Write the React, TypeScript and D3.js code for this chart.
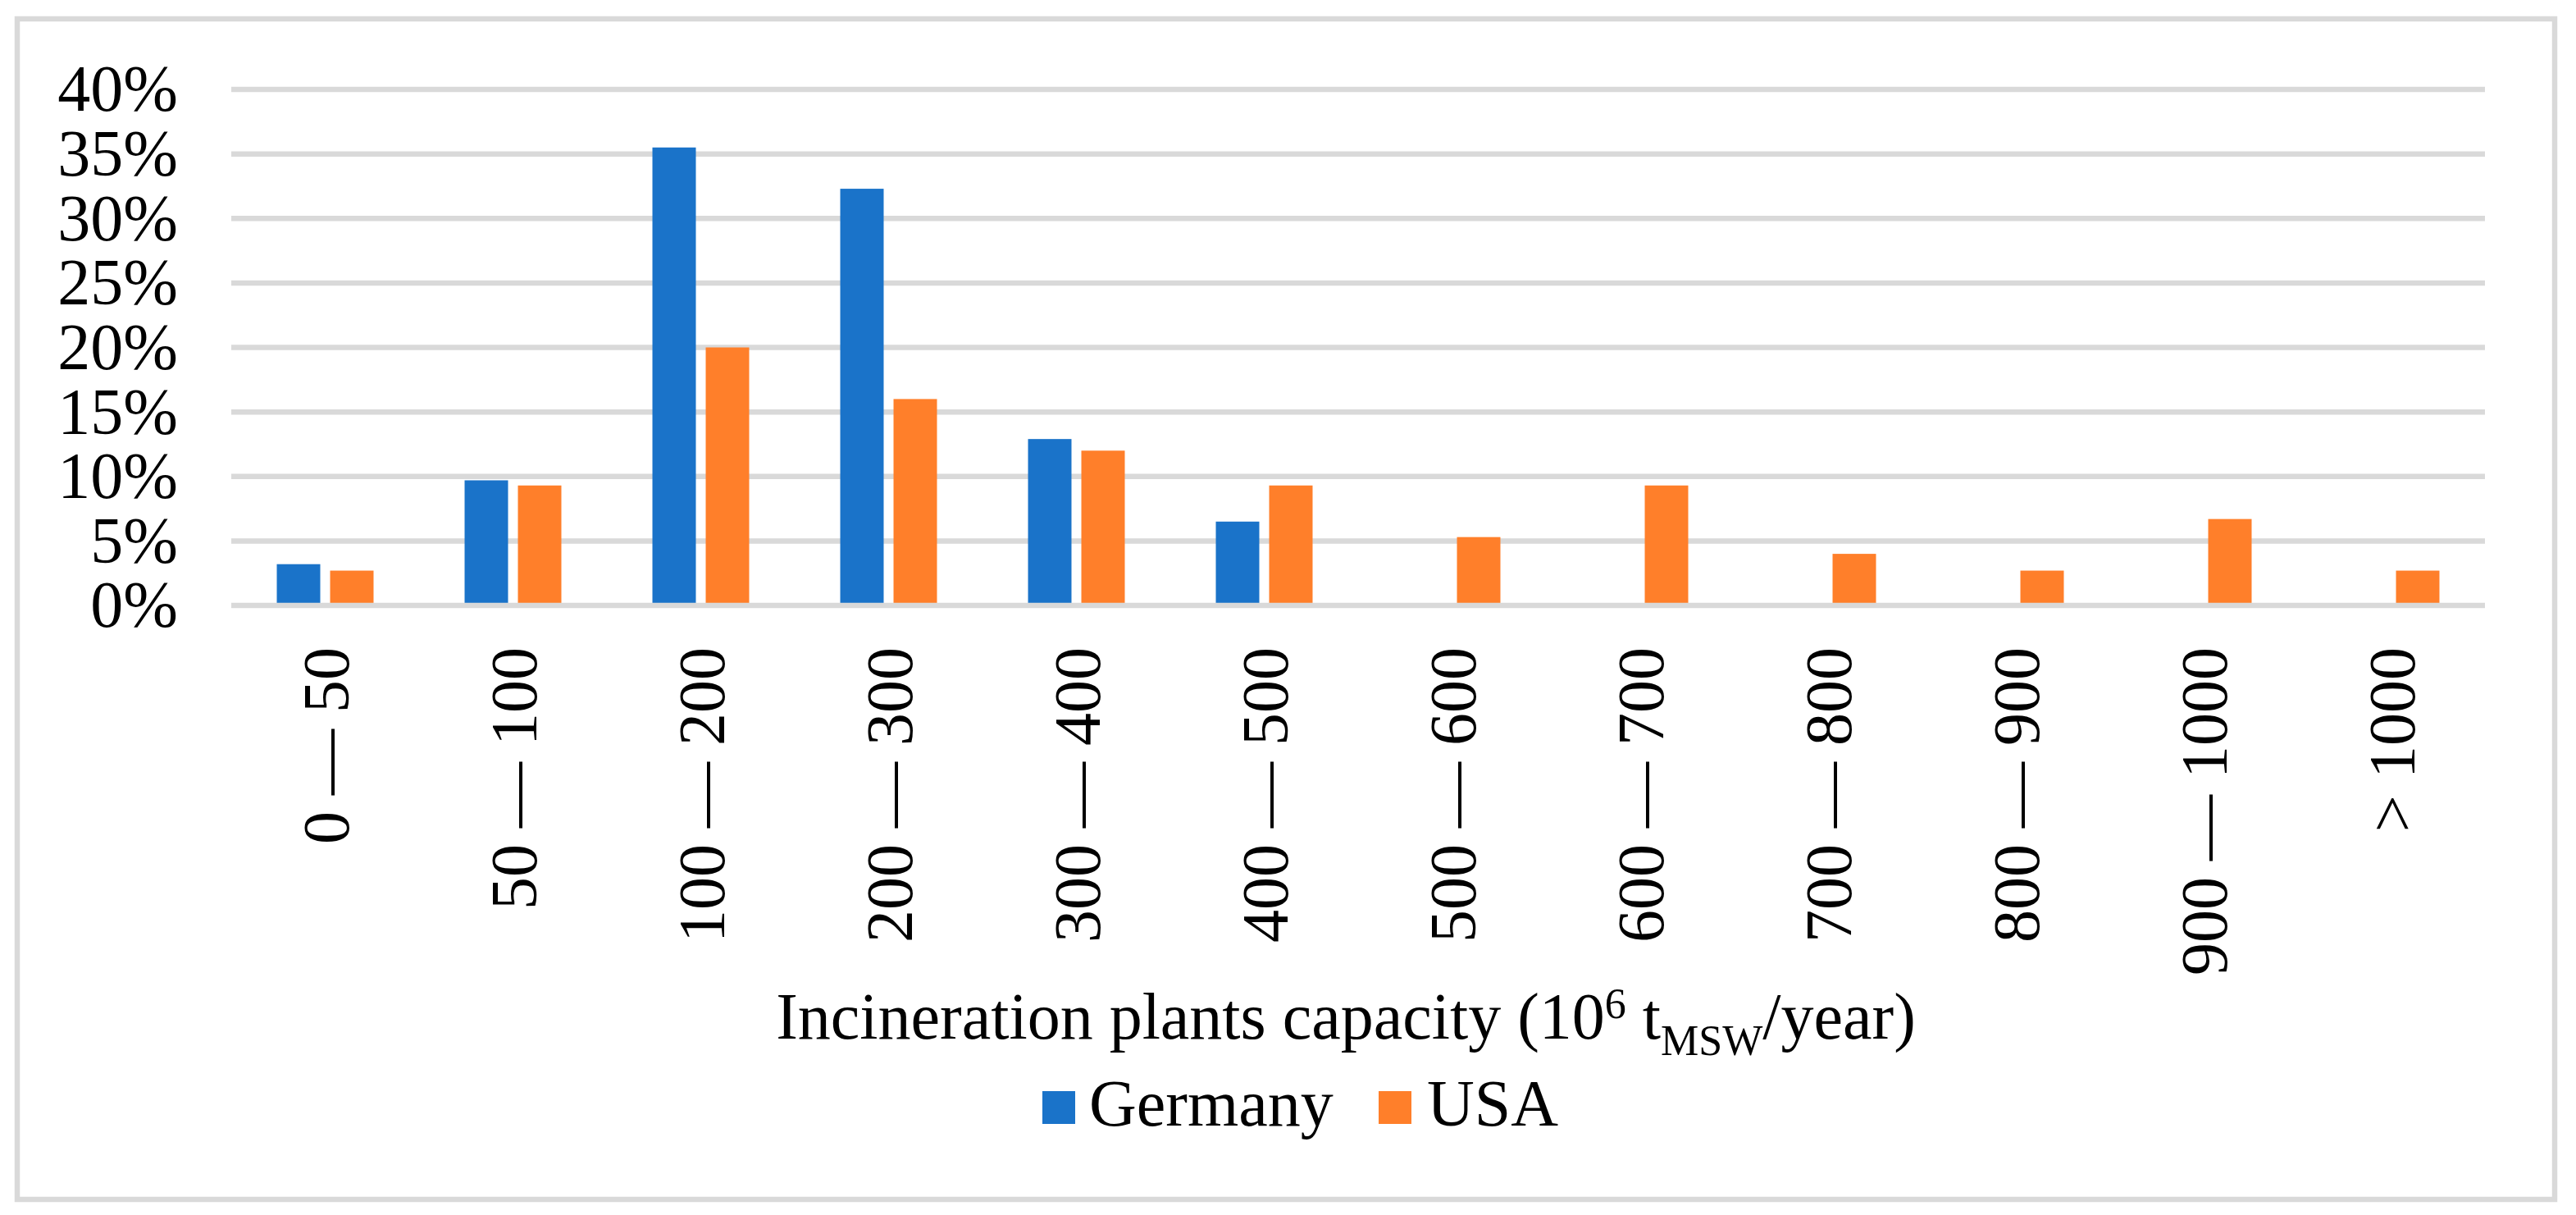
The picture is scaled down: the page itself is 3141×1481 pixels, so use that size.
import React from "react";
import * as d3 from "d3";

const categories = [
  "0 — 50",
  "50 — 100",
  "100 — 200",
  "200 — 300",
  "300 — 400",
  "400 — 500",
  "500 — 600",
  "600 — 700",
  "700 — 800",
  "800 — 900",
  "900 — 1000",
  "> 1000",
];
const seriesNames = ["Germany", "USA"];
const germanyValues = [3.2, 9.7, 35.5, 32.3, 12.9, 6.5, 0, 0, 0, 0, 0, 0];
const usaValues = [2.7, 9.3, 20.0, 16.0, 12.0, 9.3, 5.3, 9.3, 4.0, 2.7, 6.7, 2.7];
const yTicks = [0, 5, 10, 15, 20, 25, 30, 35, 40];
const seriesColors = ["#1a73c9", "#ff7f2a"];

const W = 3141;
const H = 1481;
const FONT = "'Liberation Serif', 'Times New Roman', serif";
const GRID = "#d9d9d9";

export default function App() {
  const x0 = d3.scaleBand<string>().domain(categories).range([282, 3030]);
  const x1 = d3
    .scaleBand<string>()
    .domain(seriesNames)
    .range([0, x0.bandwidth()])
    .paddingInner(0.185)
    .paddingOuter(0.854);
  const y = d3.scaleLinear().domain([0, 40]).range([738, 109]);
  const seriesData = [germanyValues, usaValues];

  return (
    <div style={{ position: "absolute", left: 0, top: 0 }}>
      <svg width={W} height={H} style={{ display: "block" }} fontFamily={FONT}>
        <rect x={0} y={0} width={W} height={H} fill="#ffffff" />
        <rect x={21} y={23} width={3094} height={1439} fill="#ffffff" stroke={GRID} strokeWidth={6.5} />

        {/* gridlines */}
        {yTicks.filter((t) => t !== 0).map((t) => (
          <line key={"g" + t} x1={282} x2={3030} y1={y(t)} y2={y(t)} stroke={GRID} strokeWidth={6.5} />
        ))}

        {/* bars */}
        {categories.map((c, i) => (
          <g key={c} transform={`translate(${x0(c)},0)`}>
            {seriesNames.map((s, si) => {
              const v = seriesData[si][i];
              if (!v) return null;
              return (
                <rect
                  key={s}
                  x={x1(s)}
                  y={y(v)}
                  width={x1.bandwidth()}
                  height={y(0) - 3 - y(v)}
                  fill={seriesColors[si]}
                />
              );
            })}
          </g>
        ))}

        {/* baseline */}
        <line x1={282} x2={3030} y1={y(0)} y2={y(0)} stroke={GRID} strokeWidth={6.5} />

        {/* y tick labels */}
        {yTicks.map((t) => (
          <text key={"y" + t} x={217} y={y(t)} dy="0.33em" textAnchor="end" fontSize={80} fill="#000">
            {t + "%"}
          </text>
        ))}

        {/* x tick labels */}
        {categories.map((c) => {
          const cx = (x0(c) as number) + x0.bandwidth() / 2;
          return (
            <text
              key={"x" + c}
              transform={`translate(${cx},789) rotate(-90)`}
              dy="0.35em"
              textAnchor="end"
              fontSize={80}
              fill="#000"
            >
              {c}
            </text>
          );
        })}

        {/* axis title */}
        <text x={1641} y={1266} textAnchor="middle" fontSize={80} fill="#000">
          <tspan>Incineration plants capacity (10</tspan>
          <tspan fontSize={52} dy={-25}>6</tspan>
          <tspan dy={25}> t</tspan>
          <tspan fontSize={52} dy={20}>MSW</tspan>
          <tspan dy={-20}>/year)</tspan>
        </text>

        {/* legend */}
        <rect x={1271} y={1330} width={40} height={40} fill={seriesColors[0]} />
        <text x={1328} y={1372} fontSize={80} fill="#000">{seriesNames[0]}</text>
        <rect x={1681} y={1330} width={40} height={40} fill={seriesColors[1]} />
        <text x={1740} y={1372} fontSize={80} fill="#000">{seriesNames[1]}</text>
      </svg>
    </div>
  );
}
